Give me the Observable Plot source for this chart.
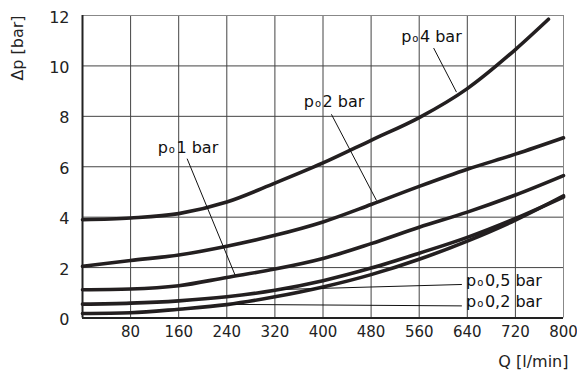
<!DOCTYPE html>
<html><head><meta charset="utf-8">
<script src="https://cdn.jsdelivr.net/npm/d3@7"></script>
<script src="https://cdn.jsdelivr.net/npm/@observablehq/plot@0.6"></script>
<style>body{margin:0;background:#fff}</style>
</head><body><div id="chart"></div>
<script>
// Data
const flow   = [0, 80, 160, 240, 320, 400, 480, 560, 640, 720, 800];
const flow4  = [0, 80, 160, 240, 320, 400, 480, 560, 640, 720, 775];
const p4bar  = [3.9, 3.97, 4.14, 4.6, 5.35, 6.15, 7.05, 7.95, 9.1, 10.65, 11.85];
const p2bar  = [2.05, 2.28, 2.5, 2.85, 3.28, 3.81, 4.5, 5.22, 5.9, 6.5, 7.15];
const p1bar  = [1.12, 1.15, 1.28, 1.61, 1.94, 2.36, 2.95, 3.6, 4.2, 4.88, 5.65];
const p05bar = [0.55, 0.59, 0.68, 0.84, 1.1, 1.48, 1.98, 2.57, 3.2, 3.95, 4.8];
const p02bar = [0.18, 0.21, 0.35, 0.53, 0.84, 1.23, 1.72, 2.33, 3.05, 3.88, 4.85];
const xTicks = [80, 160, 240, 320, 400, 480, 560, 640, 720, 800];
const yTicks = [0, 2, 4, 6, 8, 10, 12];
const labelText = ["4 bar", "2 bar", "1 bar", "0,5 bar", "0,2 bar"];
const labelQ    = [530, 368, 125, 638, 638];
const labelDp   = [10.94, 8.37, 6.54, 1.25, 0.43];
const leadQ1  = [584, 414, 174, 631, 631];
const leadDp1 = [10.71, 8.08, 6.32, 1.33, 0.48];
const leadQ2  = [622, 489, 254, 330, 246];
const leadDp2 = [8.96, 4.66, 1.69, 1.13, 0.54];
const yTitle = "Δp [bar]";
const xTitle = "Q [l/min]";

const series = [
  {q: flow4, v: p4bar}, {q: flow, v: p2bar}, {q: flow, v: p1bar},
  {q: flow, v: p05bar}, {q: flow, v: p02bar}
];
const curveRows = series.flatMap((s, k) => s.q.map((q, i) => ({k, q, v: s.v[i]})));
const labels = labelText.map((t, i) => ({t, q: labelQ[i], v: labelDp[i]}));
const leaders = leadQ1.map((q, i) => ({x1: q, y1: leadDp1[i], x2: leadQ2[i], y2: leadDp2[i]}));

const plot = Plot.plot({
  width: 577, height: 373,
  marginLeft: 82, marginRight: 14, marginTop: 15, marginBottom: 55.5,
  x: {domain: [0, 800]},
  y: {domain: [0, 12]},
  style: {fontFamily: "DejaVu Sans, sans-serif", fontSize: "16px", color: "#222", background: "#fff"},
  marks: [
    Plot.ruleX(xTicks.slice(0, -1), {stroke: "#444", strokeWidth: 1}),
    Plot.ruleY(yTicks.slice(1, -1), {stroke: "#444", strokeWidth: 1}),
    Plot.ruleY([12], {stroke: "#888", strokeWidth: 1}),
    Plot.ruleX([800], {stroke: "#888", strokeWidth: 1}),
    Plot.ruleX([0], {stroke: "#222", strokeWidth: 2}),
    Plot.ruleY([0], {stroke: "#222", strokeWidth: 2}),
    Plot.axisX({ticks: xTicks, tickSize: 0, tickPadding: 8.5, label: null, fontSize: 15, fill: "#222"}),
    Plot.axisY({ticks: yTicks, tickSize: 0, tickPadding: 13, label: null, fontSize: 16, dy: 2, fill: "#222"}),
    Plot.line(curveRows, {x: "q", y: "v", z: "k", curve: "monotone-x", stroke: "#231f20", strokeWidth: 3.6}),
    Plot.link(leaders, {x1: "x1", y1: "y1", x2: "x2", y2: "y2", stroke: "#111", strokeWidth: 1}),
    Plot.text(labels, {x: "q", y: "v", text: "t", textAnchor: "start", lineAnchor: "bottom", fontSize: 16, fill: "#111"}),
    Plot.text([yTitle], {text: d => d, frameAnchor: "top-left", fontSize: 16, fill: "#222"}),
    Plot.text([xTitle], {text: d => d, frameAnchor: "bottom-right", dx: 5, dy: 48.5, textAnchor: "end", lineAnchor: "bottom", fontSize: 16, fill: "#222"})
  ]
});
const NS = "http://www.w3.org/2000/svg";
plot.querySelectorAll("text").forEach(t => {
  const s = t.textContent;
  if (labelText.includes(s)) {
    // p with small "o" prefix
    t.textContent = "";
    const a = document.createElementNS(NS, "tspan"); a.textContent = "p";
    const b = document.createElementNS(NS, "tspan"); b.textContent = "o"; b.setAttribute("font-size", "10px"); b.setAttribute("dx", "1");
    const c = document.createElementNS(NS, "tspan"); c.textContent = s; c.setAttribute("dx", "1.5");
    t.append(a, b, c);
  } else if (s === yTitle) {
    // rotated y-axis title, left of the frame near its top
    const g = t.parentNode;
    g.removeAttribute("transform");
    ["x", "y", "dx", "dy", "transform"].forEach(k => t.removeAttribute(k));
    t.setAttribute("text-anchor", "middle");
    t.setAttribute("transform", "translate(17,48) rotate(-90)");
    t.setAttribute("dy", "0.36em");
  }
});
document.getElementById("chart").append(plot);
</script>
</body></html>
